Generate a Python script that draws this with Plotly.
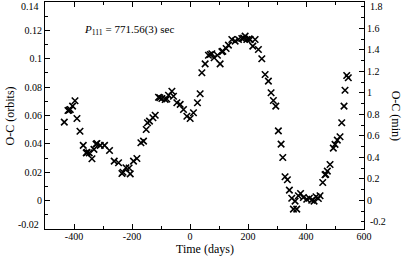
import plotly.graph_objects as go

# O-C data (time in days, O-C in orbits)
days = [-433.5, -420.8, -412.8, -404.9, -396.6, -389.8, -379.4, -368.1, -357.7, -347.4,
        -338.1, -331.2, -320.9, -309.5, -294.7, -277.5, -261.3, -246.4, -234.7, -220.9,
        -206.1, -194.8, -183.1, -169.3, -160.3, -151.0, -146.5, -139.7, -127.9, -120.0,
        -108.6, -96.9, -85.6, -74.2, -62.5, -57.0, -45.3, -33.9, -22.5, -10.8,
        0.6, 11.9, 25.7, 35.0, 40.9, 52.2, 63.6, 75.3, 83.2, 94.6,
        103.9, 113.2, 124.6, 132.5, 144.2, 155.6, 167.0, 178.7, 190.1, 195.9,
        207.3, 216.6, 224.5, 235.9, 247.6, 259.0, 270.3, 279.6, 287.5, 295.8,
        304.7, 314.1, 319.9, 327.8, 335.8, 342.7, 350.9, 356.5, 368.1, 362.3,
        373.7, 381.2, 390.9, 402.6, 411.5, 419.8, 427.7, 434.6, 442.6, 448.4,
        457.7, 465.6, 473.6, 482.9, 494.2, 500.1, 508.0, 517.3, 523.2, 531.1,
        534.5, 540.4, 545.9,
        -417.0, -355.0, -324.0, -231.0, -210.0, -104.0, -80.0, 70.0, 110.0, 185.0, 204.0, 468.0]
oc_orbits = [0.0553, 0.0635, 0.0642, 0.0666, 0.0704, 0.0579, 0.0489, 0.0389, 0.0337, 0.0337,
             0.0295, 0.0361, 0.0403, 0.0389, 0.0389, 0.0353, 0.0278, 0.0267, 0.0191, 0.0232,
             0.0189, 0.0278, 0.0297, 0.0408, 0.0419, 0.0501, 0.0549, 0.0560, 0.0584, 0.0602,
             0.0729, 0.0720, 0.0713, 0.0743, 0.0771, 0.0736, 0.0690, 0.0678, 0.0642, 0.0595,
             0.0579, 0.0619, 0.0690, 0.0753, 0.0901, 0.0964, 0.1025, 0.1035, 0.1007, 0.1025,
             0.0964, 0.1053, 0.1072, 0.1096, 0.1136, 0.1124, 0.1136, 0.1143, 0.1159, 0.1136,
             0.1136, 0.1089, 0.1136, 0.1065, 0.1000, 0.0889, 0.0842, 0.0760, 0.0706, 0.0666,
             0.0492, 0.0398, 0.0304, 0.0168, 0.0147, 0.0074, 0.0017, -0.0060, -0.0060, -0.0004,
             0.0034, 0.0050, 0.0022, 0.0010, 0.0017, 0.0003, -0.0004, 0.0027, 0.0015, 0.0034,
             0.0128, 0.0182, 0.0208, 0.0255, 0.0370, 0.0396, 0.0426, 0.0450, 0.0549, 0.0666,
             0.0778, 0.0882, 0.0866,
             0.0638, 0.0340, 0.0398, 0.0200, 0.0230, 0.0725, 0.0716, 0.1030, 0.1050, 0.1145, 0.1140, 0.0185]

x_ticks = [-400, -200, 0, 200, 400, 600]
x_ticktext = ["-400", "-200", "0", "200", "400", "600"]
y_ticks = [0.12, 0.1, 0.08, 0.06, 0.04, 0.02, 0]
y_ticktext = ["0.12", "0.1", "0.08", "0.06", "0.04", "0.02", "0"]
y2_ticks = [1.6, 1.4, 1.2, 1.0, 0.8, 0.6, 0.4, 0.2, 0]
y2_ticktext = ["1.6", "1.4", "1.2", "1", "0.8", "0.6", "0.4", "0.2", "0"]

SERIF = "Liberation Serif"
tickfont = dict(family=SERIF, size=10, color="black")
titlefont = dict(family=SERIF, size=12, color="black")

fig = go.Figure()
fig.add_trace(go.Scatter(
    x=days, y=oc_orbits, mode="markers",
    marker=dict(symbol="x-thin", size=6.5, line=dict(width=1.6, color="black"), color="black"),
    showlegend=False, hoverinfo="skip"))
fig.add_trace(go.Scatter(x=[None], y=[None], yaxis="y2", showlegend=False, hoverinfo="skip"))

fig.update_layout(
    width=403, height=257,
    margin=dict(l=45, r=39, t=2, b=28),
    paper_bgcolor="white", plot_bgcolor="white",
    xaxis=dict(range=[-500, 600], tickvals=x_ticks, ticktext=x_ticktext,
               ticks="inside", ticklen=5, tickcolor="black", tickwidth=1,
               ticklabelstandoff=-2,
               minor=dict(dtick=100, tick0=0, ticks="inside", ticklen=3, tickcolor="black"),
               showline=True, linecolor="black", linewidth=1, mirror="ticks",
               showgrid=False, zeroline=False, tickfont=tickfont),
    yaxis=dict(range=[-0.02, 0.14], tickvals=y_ticks, ticktext=y_ticktext,
               ticks="inside", ticklen=5, tickcolor="black", tickwidth=1,
               minor=dict(dtick=0.01, tick0=0, ticks="inside", ticklen=3, tickcolor="black"),
               showline=True, linecolor="black", linewidth=1,
               showgrid=False, zeroline=False, tickfont=tickfont),
    yaxis2=dict(range=[-0.266, 1.844], overlaying="y", side="right",
                tickvals=y2_ticks, ticktext=y2_ticktext,
                ticks="inside", ticklen=5, tickcolor="black", tickwidth=1,
                minor=dict(dtick=0.1, tick0=0, ticks="inside", ticklen=3, tickcolor="black"),
                showline=True, linecolor="black", linewidth=1,
                showgrid=False, zeroline=False, tickfont=tickfont),
)

annots = [
    dict(text="<i>P</i><sub>111</sub> = 771.56(3) sec", x=-372, y=0.1205, xref="x", yref="y",
         xanchor="left", yanchor="middle", showarrow=False,
         font=dict(family=SERIF, size=11, color="black")),
    dict(text="0.14", x=0, xref="paper", y=0.137, yref="y", xanchor="right", yanchor="middle",
         xshift=-4, showarrow=False, font=tickfont),
    dict(text="-0.02", x=0, xref="paper", y=-0.0165, yref="y", xanchor="right", yanchor="middle",
         xshift=-4, showarrow=False, font=tickfont),
    dict(text="1.8", x=1, xref="paper", y=1.80, yref="y2", xanchor="left", yanchor="middle",
         xshift=4, showarrow=False, font=tickfont),
    dict(text="-0.2", x=1, xref="paper", y=-0.2, yref="y2", xanchor="left", yanchor="middle",
         xshift=4, showarrow=False, font=tickfont),
    dict(text="Time (days)", x=0.5, xref="paper", y=-0.09, yref="paper",
         xanchor="center", yanchor="middle", showarrow=False, font=titlefont),
    dict(text="O-C (orbits)", x=-0.11, xref="paper", y=0.5, yref="paper", textangle=-90,
         xanchor="center", yanchor="middle", showarrow=False, font=titlefont),
    dict(text="O-C (min)", x=1.103, xref="paper", y=0.5, yref="paper", textangle=90,
         xanchor="center", yanchor="middle", showarrow=False, font=titlefont),
]
fig.update_layout(annotations=annots)

fig.write_html("out.html", config={"displayModeBar": False},
               post_script="document.body.style.margin='0';document.body.style.padding='0';")
